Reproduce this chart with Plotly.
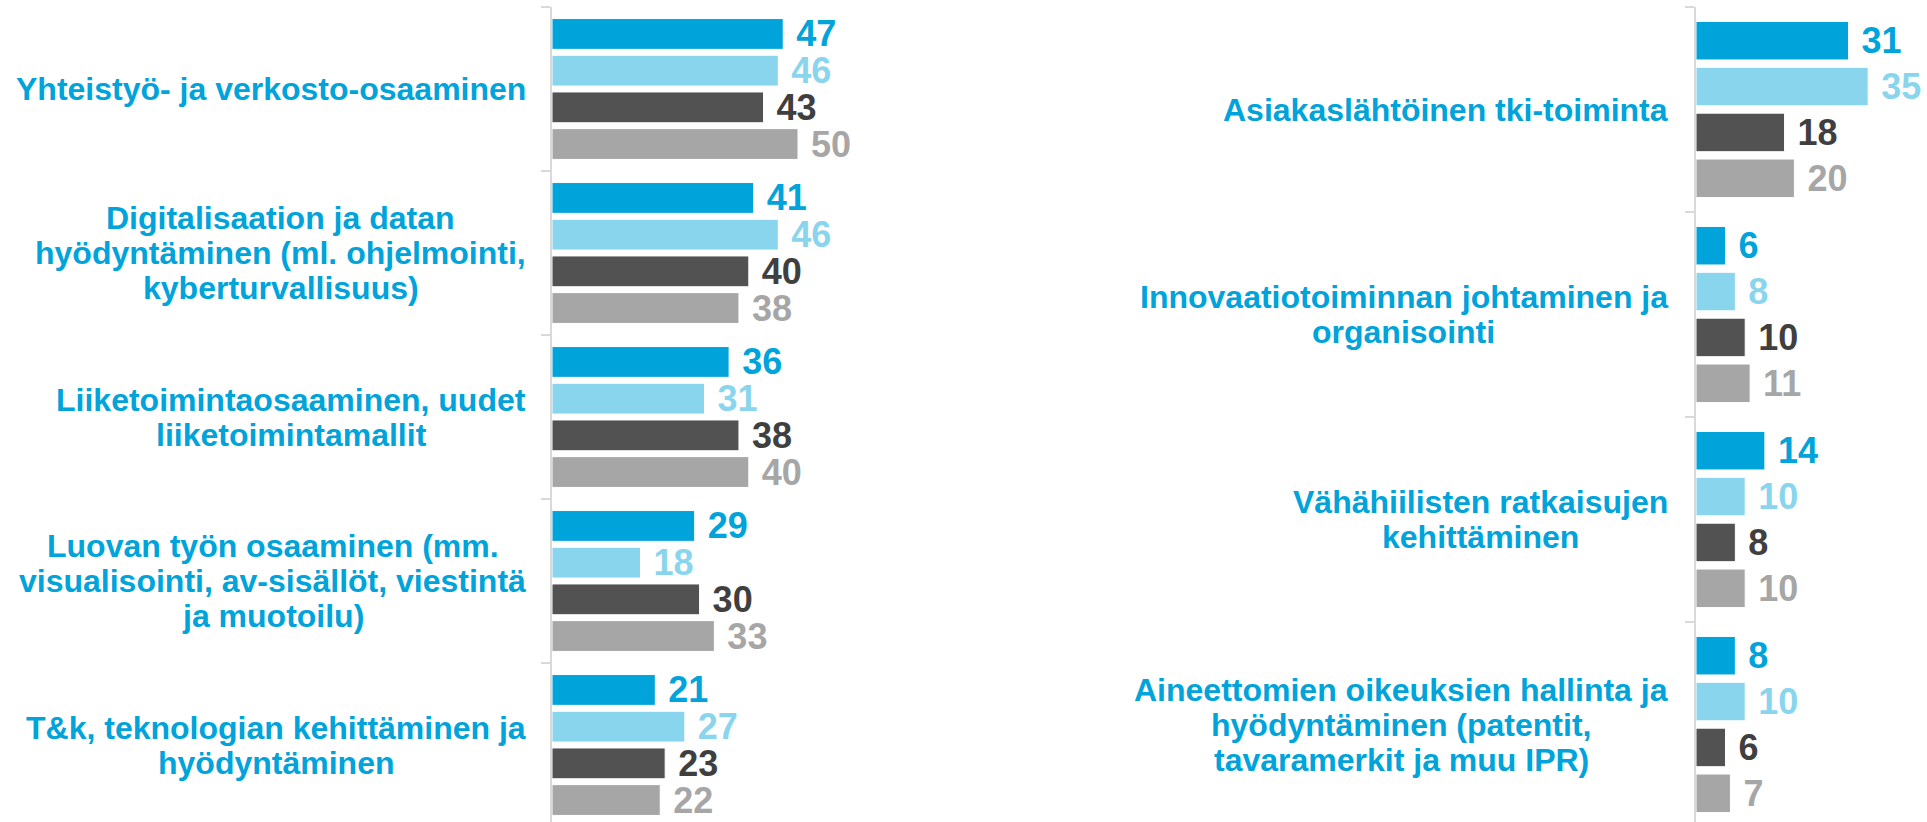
import plotly.graph_objects as go

# Osaamistarpeet: neljä sarjaa per osaamisalue
left_categories = [
    "Yhteistyö- ja verkosto-osaaminen",
    "Digitalisaation ja datan\nhyödyntäminen (ml. ohjelmointi,\nkyberturvallisuus)",
    "Liiketoimintaosaaminen, uudet\nliiketoimintamallit",
    "Luovan työn osaaminen (mm.\nvisualisointi, av-sisällöt, viestintä\nja muotoilu)",
    "T&k, teknologian kehittäminen ja\nhyödyntäminen",
]
left_s1 = [47, 41, 36, 29, 21]
left_s2 = [46, 46, 31, 18, 27]
left_s3 = [43, 40, 38, 30, 23]
left_s4 = [50, 38, 40, 33, 22]

right_categories = [
    "Asiakaslähtöinen tki-toiminta",
    "Innovaatiotoiminnan johtaminen ja\norganisointi",
    "Vähähiilisten ratkaisujen\nkehittäminen",
    "Aineettomien oikeuksien hallinta ja\nhyödyntäminen (patentit,\ntavaramerkit ja muu IPR)",
]
right_s1 = [31, 6, 14, 8]
right_s2 = [35, 8, 10, 10]
right_s3 = [18, 10, 8, 6]
right_s4 = [20, 11, 10, 7]

series_names = ["Sarja 1", "Sarja 2", "Sarja 3", "Sarja 4"]
bar_colors = ["#00a3da", "#8ad5ee", "#525252", "#a6a6a6"]
text_colors = ["#00a3da", "#8ad5ee", "#3f3f3f", "#a6a6a6"]
label_color = "#00a3da"
axis_color = "#d9d9d9"
FONT = "Liberation Sans, Arial, sans-serif"
LABEL_SIZE = 32
VALUE_SIZE = 36
LINE_PITCH = 35  # px between label lines

W, H = 1927, 822
PX_PER_UNIT = 4.92

# advance widths of Liberation Sans Bold (units per 1000 em), for centring label lines
_ADV = {" ": 278, "&": 722, "(": 333, ")": 333, ",": 278, "-": 333, ".": 278,
        "A": 722, "D": 722, "I": 278, "L": 611, "P": 667, "R": 722, "T": 611,
        "V": 667, "Y": 667, "b": 611, "d": 611, "f": 333, "g": 611, "h": 611,
        "i": 278, "j": 278, "l": 278, "m": 889, "n": 611, "o": 611, "p": 611,
        "q": 611, "r": 389, "t": 333, "u": 611, "w": 778, "ö": 611}


def text_width(s, size):
    return sum(_ADV.get(ch, 556) for ch in s) * size / 1000.0


fig = go.Figure()


def add_panel(cats, series, xaxis, yaxis):
    for name, vals, bc, tc in zip(series_names, series, bar_colors, text_colors):
        fig.add_trace(go.Bar(
            y=cats, x=vals, name=name, orientation="h",
            marker=dict(color=bc, line=dict(color="white", width=1)),
            text=vals, texttemplate="\u00a0%{x}", textposition="outside",
            constraintext="none", cliponaxis=False,
            textfont=dict(family=FONT, size=VALUE_SIZE, color=tc, weight="bold"),
            xaxis=xaxis, yaxis=yaxis, showlegend=False,
            hoverinfo="x+y",
        ))


add_panel(left_categories, [left_s1, left_s2, left_s3, left_s4], "x", "y")
add_panel(right_categories, [right_s1, right_s2, right_s3, right_s4], "x2", "y2")

# plot areas (pixel edges converted to paper fractions)
top_px = 7
left_x0, left_x1 = 552, 900
right_x0, right_x1 = 1696, W
band_left = (H + 5 - top_px) / len(left_categories)
band_right = (H + 5 - top_px) / len(right_categories)

xcommon = dict(showgrid=False, zeroline=False, showticklabels=False, showline=False, ticks="")
fig.update_layout(
    width=W, height=H, autosize=False,
    margin=dict(l=0, r=0, t=0, b=0),
    paper_bgcolor="white", plot_bgcolor="white",
    barmode="group", bargap=0.105, bargroupgap=0.16,
    showlegend=False,
    xaxis=dict(domain=[left_x0 / W, left_x1 / W],
               range=[0, (left_x1 - left_x0) / PX_PER_UNIT], **xcommon),
    xaxis2=dict(domain=[right_x0 / W, right_x1 / W],
                range=[0, (right_x1 - right_x0) / PX_PER_UNIT], anchor="y2", **xcommon),
)

ycommon = dict(showgrid=False, zeroline=False, showticklabels=False,
               showline=True, linecolor=axis_color, linewidth=2,
               ticks="outside", tickson="boundaries", ticklen=9,
               tickwidth=2, tickcolor=axis_color, type="category")
fig.update_layout(
    yaxis=dict(domain=[0, 1 - top_px / H], anchor="x",
               range=[len(left_categories) - 0.5 - 5 / band_left, -0.5], **ycommon),
    yaxis2=dict(domain=[0, 1 - top_px / H], anchor="x2",
                range=[len(right_categories) - 0.5 - 5 / band_right, -0.5], **ycommon),
)

# category labels: block right-aligned to the label column, lines centred in the block
for cats, yref, right_edge in [(left_categories, "y", 526), (right_categories, "y2", 1668)]:
    for c in cats:
        lines = c.split("\n")
        block_w = max(text_width(ln, LABEL_SIZE) for ln in lines)
        cx = (right_edge - block_w / 2) / W
        n = len(lines)
        for i, ln in enumerate(lines):
            fig.add_annotation(
                x=cx, xref="paper", y=c, yref=yref,
                text=ln, showarrow=False,
                xanchor="center", yanchor="middle", align="center",
                yshift=((n - 1) / 2 - i) * LINE_PITCH,
                font=dict(family=FONT, size=LABEL_SIZE, color=label_color, weight="bold"),
            )

fig.write_html("out.html")
